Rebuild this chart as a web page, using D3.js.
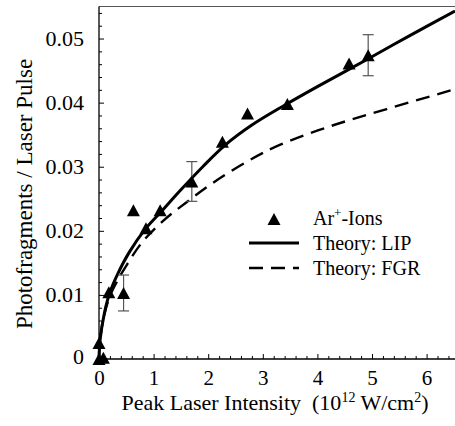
<!DOCTYPE html>
<html>
<head>
<meta charset="utf-8">
<script src="https://cdn.jsdelivr.net/npm/d3@7"></script>
</head>
<body style="margin:0">
<svg id="chart" width="455" height="426" style="display:block"></svg>
<script>
// ---- data ----
const xTicks = [0, 1, 2, 3, 4, 5, 6];
const yTicks = [0, 0.01, 0.02, 0.03, 0.04, 0.05];
const yTickLabels = ["0", "0.01", "0.02", "0.03", "0.04", "0.05"];

const ionX   = [0.0, 0.08, 0.0, 0.18, 0.45, 0.63, 0.86, 1.12, 1.70, 2.26, 2.72, 3.45, 4.58, 4.93];
const ionY   = [0.0, 0.0002, 0.0025, 0.0104, 0.0103, 0.0232, 0.0204, 0.0232, 0.0277, 0.0339, 0.0383, 0.0398, 0.0461, 0.0474];
const ionErr = [0, 0, 0, 0, 0.0028, 0, 0, 0, 0.0031, 0, 0, 0, 0, 0.0032];

const lipX = [0, 0.02, 0.1, 0.2, 0.35, 0.55, 0.85, 1.15, 1.5, 1.9, 2.3, 2.8, 3.4, 4.0, 4.9, 5.7, 6.52];
const lipY = [0, 0.0030, 0.0072, 0.0104, 0.0134, 0.0166, 0.0203, 0.0231, 0.0264, 0.0300, 0.0333, 0.0365, 0.0396, 0.0425, 0.0467, 0.0505, 0.0543];

const fgrX = [0, 0.02, 0.1, 0.2, 0.35, 0.51, 0.78, 1.18, 1.61, 2.09, 2.71, 3.31, 4.23, 5.27, 6.52];
const fgrY = [0, 0.0030, 0.0070, 0.0098, 0.0124, 0.0147, 0.0181, 0.0216, 0.0245, 0.0275, 0.0308, 0.0334, 0.0363, 0.0390, 0.0421];

const legendLabels = ["Ar+-Ions", "Theory: LIP", "Theory: FGR"];

// ---- layout ----
const FAM = '"Liberation Serif"';
function serif(sel, size) {
  return sel.attr("font-family", "Liberation Serif").attr("font-size", size)
            .style("font-family", FAM).attr("fill", "#000");
}
const svg = d3.select("#chart");
const x = d3.scaleLinear().domain([0, 6.52]).range([99, 455]);
const y = d3.scaleLinear().domain([0, 0.055]).range([359, 6.5]);

// frame top border
svg.append("line")
  .attr("x1", x(0)).attr("x2", 455).attr("y1", y(0.055)).attr("y2", y(0.055))
  .attr("stroke", "#555").attr("stroke-width", 1.2);

// x axis
const xMinor = d3.range(0, 6.41, 0.2).filter(v => Math.abs(v - Math.round(v)) > 1e-6);
svg.append("g").attr("transform", `translate(0,${y(0)})`)
  .call(d3.axisBottom(x).tickValues(xMinor).tickSize(-3).tickFormat(""))
  .call(g => g.select(".domain").remove())
  .call(g => g.selectAll("line").attr("stroke", "#000"));
const gx = svg.append("g").attr("transform", `translate(0,${y(0)})`)
  .call(d3.axisBottom(x).tickValues(xTicks).tickSize(-5).tickPadding(11).tickFormat(d3.format("d")))
  .call(g => g.select(".domain").attr("d", `M${x(0)},0H455`).attr("stroke", "#000").attr("stroke-width", 1.3));
serif(gx, 21);
serif(gx.selectAll("text"), 21);

// y axis
const yMinor = d3.range(0, 0.0549, 0.002).filter(v => Math.abs(v * 100 - Math.round(v * 100)) > 1e-6);
svg.append("g").attr("transform", `translate(${x(0)},0)`)
  .call(d3.axisLeft(y).tickValues(yMinor).tickSize(-3).tickFormat(""))
  .call(g => g.select(".domain").remove())
  .call(g => g.selectAll("line").attr("stroke", "#000"));
const gy = svg.append("g").attr("transform", `translate(${x(0)},0)`)
  .call(d3.axisLeft(y).tickValues(yTicks).tickSize(-5).tickPadding(15)
        .tickFormat((d, i) => yTickLabels[i]))
  .call(g => g.select(".domain").attr("d", `M0,${y(0)}V${y(0.055)}`).attr("stroke", "#000").attr("stroke-width", 1.3));
serif(gy, 22);
serif(gy.selectAll("text"), 22);
gy.selectAll(".tick").filter(d => d === 0).select("text").attr("dy", "0.2em");

// axis titles
const xt = serif(svg.append("text"), 22)
  .attr("x", 275).attr("y", 410)
  .attr("text-anchor", "middle");
xt.append("tspan").text("Peak Laser Intensity\u00A0\u00A0(10");
xt.append("tspan").attr("font-size", 14).attr("dy", -8).text("12");
xt.append("tspan").attr("dy", 8).text(" W/cm");
xt.append("tspan").attr("font-size", 14).attr("dy", -8).text("2");
xt.append("tspan").attr("dy", 8).text(")");

serif(svg.append("text"), 23)
  .attr("transform", "translate(24,194) rotate(-90)")
  .attr("text-anchor", "middle").attr("dominant-baseline", "central")
  .text("Photofragments / Laser Pulse");

// curves
const line = d3.line().x(d => x(d[0])).y(d => y(d[1])).curve(d3.curveCatmullRom.alpha(0.5));
svg.append("path").datum(d3.zip(fgrX, fgrY))
  .attr("d", line).attr("fill", "none").attr("stroke", "#000")
  .attr("stroke-width", 2.4).attr("stroke-dasharray", "14,8");
svg.append("path").datum(d3.zip(lipX, lipY))
  .attr("d", line).attr("fill", "none").attr("stroke", "#000")
  .attr("stroke-width", 3);

// error bars
const errData = ionX.map((v, i) => ({ x: v, y: ionY[i], e: ionErr[i] })).filter(d => d.e > 0);
const eb = svg.append("g").attr("stroke", "#555").attr("stroke-width", 1.2);
errData.forEach(d => {
  eb.append("line").attr("x1", x(d.x)).attr("x2", x(d.x)).attr("y1", y(d.y - d.e)).attr("y2", y(d.y + d.e));
  eb.append("line").attr("x1", x(d.x) - 5.5).attr("x2", x(d.x) + 5.5).attr("y1", y(d.y - d.e)).attr("y2", y(d.y - d.e));
  eb.append("line").attr("x1", x(d.x) - 5.5).attr("x2", x(d.x) + 5.5).attr("y1", y(d.y + d.e)).attr("y2", y(d.y + d.e));
});

// triangle marker (centered on its bounding box)
const triW = 13, triH = 12;
const triPath = `M0,${-triH / 2}L${triW / 2},${triH / 2}L${-triW / 2},${triH / 2}Z`;
svg.append("g").selectAll("path")
  .data(ionX.map((v, i) => [v, ionY[i]]))
  .join("path")
  .attr("d", triPath)
  .attr("transform", d => `translate(${x(d[0])},${y(d[1])})`)
  .attr("fill", "#000");

// legend
const lg = svg.append("g");
lg.append("path").attr("d", triPath).attr("transform", "translate(274,219)").attr("fill", "#000");
lg.append("line").attr("x1", 249).attr("x2", 299).attr("y1", 243).attr("y2", 243)
  .attr("stroke", "#000").attr("stroke-width", 3);
lg.append("line").attr("x1", 249).attr("x2", 299).attr("y1", 268).attr("y2", 268)
  .attr("stroke", "#000").attr("stroke-width", 2.4).attr("stroke-dasharray", "14,8");
const t1 = serif(lg.append("text"), 20).attr("x", 313).attr("y", 225);
t1.append("tspan").text("Ar");
t1.append("tspan").attr("font-size", 13).attr("dy", -8).text("+");
t1.append("tspan").attr("dy", 8).text("-Ions");
serif(lg.append("text"), 20).attr("x", 313).attr("y", 250).text(legendLabels[1]);
serif(lg.append("text"), 20).attr("x", 313).attr("y", 275).text(legendLabels[2]);
</script>
</body>
</html>
